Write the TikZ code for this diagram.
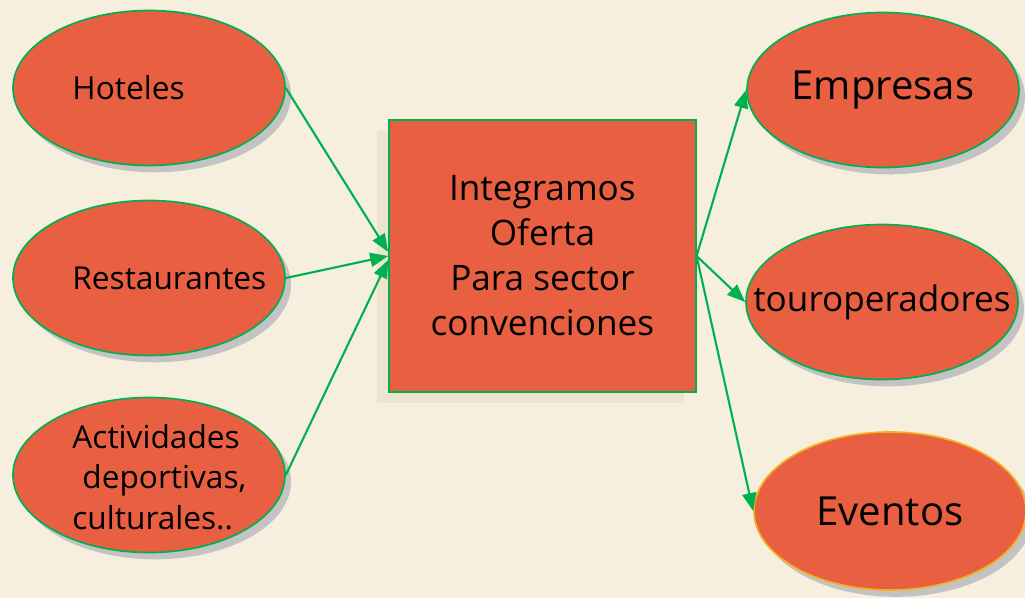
\documentclass[tikz,border=0pt]{standalone}
\usepackage{fontspec}
\setmainfont{Open Sans}
\usetikzlibrary{shapes.geometric,shadows,arrows.meta}
\definecolor{cream}{HTML}{F6EFDE}
\definecolor{coral}{HTML}{E85F42}
\definecolor{leaf}{HTML}{00B050}
\definecolor{amber}{HTML}{F5B01E}
\definecolor{shade}{HTML}{C3C3C3}
\definecolor{boxshade}{HTML}{EDE3CE}

\begin{document}
\begin{tikzpicture}[
  bubble/.style={ellipse, draw=leaf, line width=1.2pt, fill=coral, minimum width=6.8cm, minimum height=3.875cm, inner sep=0pt, font=\fontsize{28.5}{34}\selectfont, drop shadow={shadow xshift=0.15cm, shadow yshift=-0.17cm, fill=shade, opacity=1}},
  lefttxt/.style={anchor=west, align=left, inner sep=0pt, font=\fontsize{22.5}{29}\selectfont},
  conn/.style={leaf, line width=1.5pt, -{Triangle[length=0.45cm, width=0.35cm]}},
]

\fill[cream] (0,0) rectangle (25.625,-14.95);
\useasboundingbox (0,0) rectangle (25.625,-14.95);

\node[bubble] (hot) at (3.725,-2.2) {};
\node[bubble] (res) at (3.725,-6.95) {};
\node[bubble] (act) at (3.725,-11.875) {};
\node[lefttxt] (hotT) at ([xshift=1.5cm]hot.west) {Hoteles};
\node[lefttxt] (resT) at ([xshift=1.5cm]res.west) {Restaurantes};
\node[lefttxt] (actT) at ([xshift=1.5cm,yshift=-0.05cm]act.west) {Actividades\\\hspace*{0.25cm}deportivas,\\culturales..};

\node[draw=leaf, line width=1pt, fill=coral, minimum width=7.675cm, minimum height=6.8cm, align=center, font=\fontsize{25}{32}\selectfont, general shadow={shadow xshift=-0.3cm, shadow yshift=-0.27cm, fill=boxshade}] (box) at (13.56,-6.4) {Integramos\\Oferta\\Para sector\\convenciones};

\node[bubble] (emp) at (22.075,-2.25) {\makebox[0pt]{Empresas}};
\node[bubble] (tour) at (22.05,-7.55) {\makebox[0pt]{\fontsize{25}{30}\selectfont touroperadores}};
\node[bubble, draw=amber, minimum height=3.95cm] (eve) at (22.25,-12.775) {\makebox[0pt]{Eventos}};

\draw[conn] (hot.east) -- ([yshift=0.1cm]box.west);
\draw[conn] (res.east) -- (box.west);
\draw[conn] (act.east) -- ([yshift=-0.1cm]box.west);
\draw[conn] (box.east) -- (emp.west);
\draw[conn] (box.east) -- (tour.west);
\draw[conn] (box.east) -- (eve.west);
\end{tikzpicture}
\end{document}
